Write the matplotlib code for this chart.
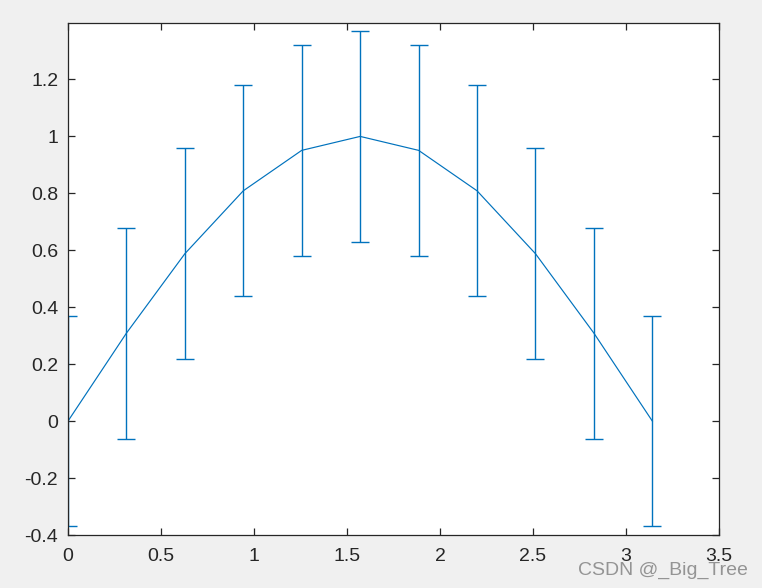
import matplotlib
matplotlib.use("Agg")
from matplotlib import pyplot as plt

# data
x = [0, 0.3142, 0.6283, 0.9425, 1.2566, 1.5708, 1.8850, 2.1991, 2.5133, 2.8274, 3.1416]
y = [0, 0.309, 0.588, 0.809, 0.951, 1.0, 0.951, 0.809, 0.588, 0.309, 0]
err = [0.37] * 11
xticks = [0, 0.5, 1, 1.5, 2, 2.5, 3, 3.5]
xtick_labels = ["0", "0.5", "1", "1.5", "2", "2.5", "3", "3.5"]
yticks = [-0.4, -0.2, 0, 0.2, 0.4, 0.6, 0.8, 1, 1.2]
ytick_labels = ["-0.4", "-0.2", "0", "0.2", "0.4", "0.6", "0.8", "1", "1.2"]

plt.rcParams['font.family'] = ['Liberation Sans', 'DejaVu Sans']

fig = plt.figure(figsize=(7.62, 5.88), dpi=100, facecolor="#f0f0f0")
ax = fig.add_axes([0.0892, 0.0901, 0.8544, 0.8716])
ax.set_facecolor("white")

ax.errorbar(x, y, yerr=err, color="#0072bd", linewidth=0.85,
            elinewidth=1.0, capsize=6.5, capthick=1.0)

ax.set_xlim(0, 3.5)
ax.set_ylim(-0.4, 1.4)
ax.set_xticks(xticks)
ax.set_xticklabels(xtick_labels)
ax.set_yticks(yticks)
ax.set_yticklabels(ytick_labels)
ax.tick_params(direction="in", top=True, right=True, length=5, width=0.9,
               colors="#262626", labelsize=14, pad=7)
ax.tick_params(axis="x", pad=9)
for s in ax.spines.values():
    s.set_color("#262626")
    s.set_linewidth(0.9)

# watermark sits over the last x tick labels, as in the reference
fig.text(0.982, 0.016, "CSDN @_Big_Tree", ha="right", va="bottom",
         fontsize=14, color="#8a8a8a", alpha=0.9)

fig.savefig("out.png", dpi=100, facecolor=fig.get_facecolor())
